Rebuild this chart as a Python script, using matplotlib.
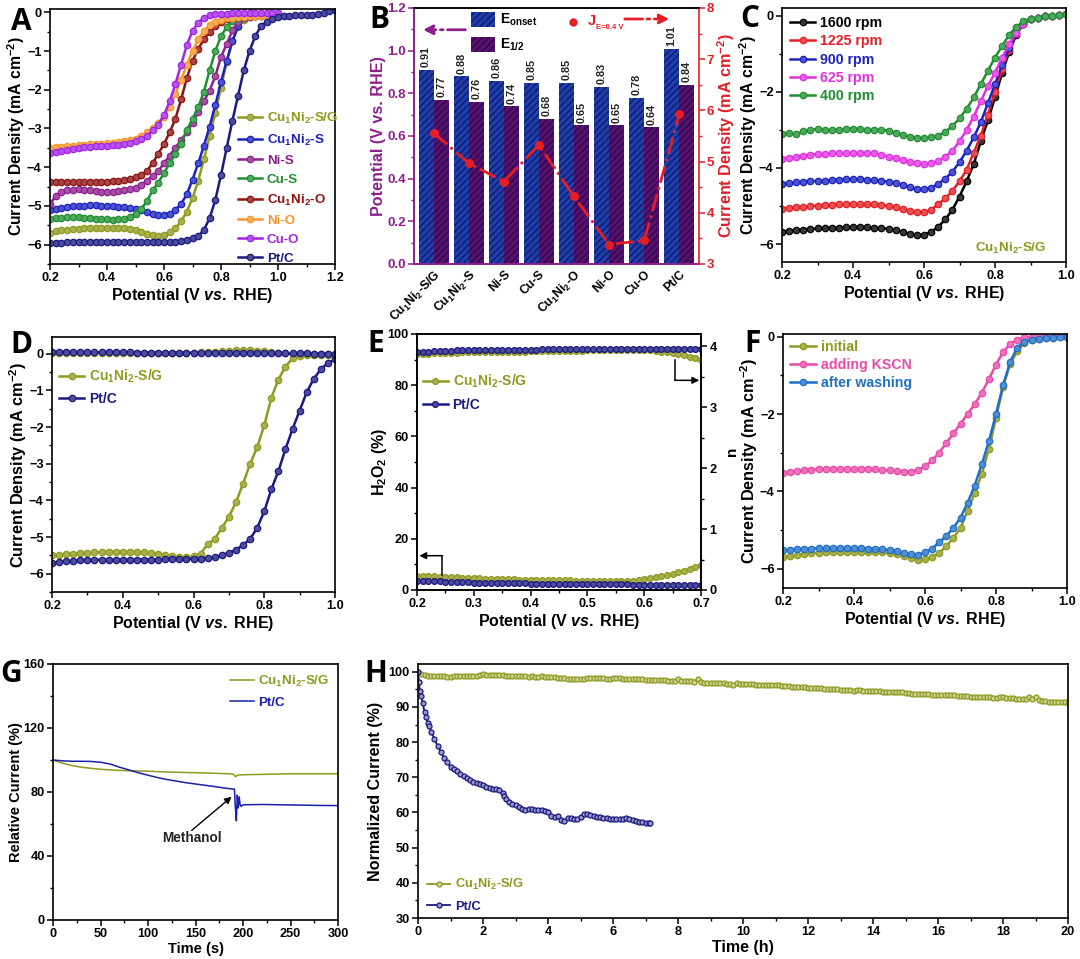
import numpy as np
import matplotlib
matplotlib.use("Agg")
import matplotlib.pyplot as plt
from matplotlib.ticker import AutoMinorLocator, MultipleLocator
from matplotlib.colors import to_rgb

plt.rcParams.update({
    'font.family': ['Liberation Sans', 'DejaVu Sans'],
    'font.weight': 'bold',
    'axes.labelweight': 'bold',
    'mathtext.fontset': 'custom',
    'mathtext.rm': 'Liberation Sans:bold',
    'mathtext.bf': 'Liberation Sans:bold',
    'mathtext.it': 'Liberation Sans:italic:bold',
    'axes.linewidth': 1.2,
    'hatch.linewidth': 1.0,
})

# ---------- shared names ----------
CUNIS_G = 'Cu$_1$Ni$_2$-S/G'
CUNIS = 'Cu$_1$Ni$_2$-S'
CUNIO = 'Cu$_1$Ni$_2$-O'
OLIVE = '#8f9a1e'; BLUE = '#1c22c0'; PURPLE = '#8e1f8e'; GREEN = '#1f8f30'
DRED = '#8e1212'; ORANGE = '#f5982a'; VIOLET = '#a224e8'; NAVY = '#1b1a80'
PINK = '#e84aa8'; SKY = '#1f6fc8'; RED = '#e51e25'; MAGENTA = '#e030e0'

# ---------- panel A ----------
A_x = np.arange(51) * 0.02 + 0.2
A_cunisg = [-5.7,-5.66,-5.63,-5.61,-5.6,-5.59,-5.58,-5.58,-5.58,-5.57,
            -5.57,-5.57,-5.57,-5.58,-5.6,-5.63,-5.68,-5.73,-5.76,-5.78,
            -5.76,-5.68,-5.57,-5.4,-5.15,-4.8,-4.35,-3.8,-3.2,-2.6,
            -1.95,-1.28,-.75,-.38,-.2,-.13,-.1,-.09,-.08,-.08,-.08]
A_cunis = [-5.1,-5.07,-5.05,-5.03,-5.01,-5.0,-4.99,-4.98,-4.98,-4.99,
           -5.0,-5.01,-5.02,-5.03,-5.05,-5.07,-5.1,-5.15,-5.2,-5.23,
           -5.24,-5.2,-5.1,-4.95,-4.7,-4.32,-3.9,-3.45,-2.95,-2.4,
           -1.8,-1.25,-.75,-.35,-.15,-.1,-.09,-.08,-.08,-.07,-.07]
A_nis = [-4.95,-4.75,-4.65,-4.6,-4.58,-4.57,-4.58,-4.6,-4.62,-4.63,
         -4.64,-4.64,-4.62,-4.6,-4.57,-4.53,-4.46,-4.35,-4.22,-4.1,
         -3.9,-3.7,-3.5,-3.3,-3.1,-2.85,-2.58,-2.3,-2.02,-1.65,
         -1.15,-.82,-.47,-.24,-.14,-.11,-.1,-.09,-.09,-.08,-.08]
A_cus = [-5.35,-5.32,-5.3,-5.29,-5.29,-5.29,-5.3,-5.31,-5.33,-5.34,
         -5.35,-5.36,-5.35,-5.33,-5.28,-5.2,-5.08,-4.88,-4.6,-4.4,
         -4.15,-3.9,-3.65,-3.4,-3.05,-2.75,-2.45,-2.05,-1.5,-1.0,
         -.62,-.38,-.22,-.14,-.11,-.1,-.09,-.09,-.08,-.08,-.08]
A_cunio = [-4.38,-4.38,-4.39,-4.39,-4.39,-4.39,-4.38,-4.38,-4.38,-4.38,
           -4.37,-4.36,-4.35,-4.33,-4.3,-4.25,-4.2,-4.1,-3.9,-3.65,
           -3.4,-3.1,-2.75,-2.25,-1.7,-1.25,-.95,-.7,-.5,-.35,
           -.25,-.18,-.14,-.12,-.1,-.09,-.08,-.08,-.07,-.07,-.07]
A_nio = [-3.5,-3.48,-3.47,-3.45,-3.44,-3.43,-3.42,-3.41,-3.4,-3.39,
         -3.38,-3.37,-3.35,-3.33,-3.3,-3.26,-3.2,-3.1,-3.0,-2.85,
         -2.7,-2.45,-2.1,-1.75,-1.35,-1.0,-.7,-.48,-.33,-.24,
         -.19,-.16,-.14,-.12,-.11,-.1,-.09,-.09,-.09,-.08,-.08]
A_cuo = [-3.63,-3.6,-3.57,-3.55,-3.53,-3.51,-3.49,-3.48,-3.46,-3.45,
         -3.44,-3.43,-3.42,-3.4,-3.38,-3.33,-3.27,-3.2,-3.05,-2.9,
         -2.65,-2.3,-1.85,-1.35,-.85,-.48,-.27,-.14,-.08,-.05,
         -.04,-.04,-.03,-.03,-.03,-.03,-.03,-.03,-.03,-.03,-.03]
A_ptc = [-5.97,-5.96,-5.95,-5.94,-5.93,-5.92,-5.92,-5.92,-5.92,-5.92,
         -5.93,-5.93,-5.93,-5.93,-5.94,-5.94,-5.94,-5.94,-5.94,-5.94,
         -5.94,-5.93,-5.92,-5.91,-5.88,-5.84,-5.78,-5.62,-5.32,-4.85,
         -4.2,-3.5,-2.8,-2.15,-1.5,-1.0,-.62,-.36,-.24,-.17,
         -.13,-.1,-.09,-.08,-.08,-.07,-.06,-.05,-.02,.03,.05]

# ---------- panel B ----------
B_cats = [CUNIS_G, CUNIS, 'Ni-S', 'Cu-S', CUNIO, 'Ni-O', 'Cu-O', 'Pt/C']
B_onset = [0.91, 0.88, 0.86, 0.85, 0.85, 0.83, 0.78, 1.01]
B_half = [0.77, 0.76, 0.74, 0.68, 0.65, 0.65, 0.64, 0.84]
B_j = [5.56, 4.97, 4.61, 5.32, 4.32, 3.38, 3.46, 5.92]

# ---------- panel C ----------
C_x = np.arange(41) * 0.02 + 0.2
C_1600 = [-5.68,-5.65,-5.63,-5.62,-5.6,-5.59,-5.58,-5.58,-5.57,-5.56,
          -5.56,-5.55,-5.56,-5.57,-5.58,-5.6,-5.63,-5.68,-5.73,-5.77,
          -5.75,-5.68,-5.55,-5.35,-5.1,-4.75,-4.35,-3.9,-3.3,-2.75,
          -2.15,-1.5,-.95,-.5,-.22,-.1,-.05,-.02,0,.01,.03]
C_1225 = [-5.07,-5.05,-5.03,-5.02,-5.0,-4.99,-4.98,-4.97,-4.96,-4.95,
          -4.95,-4.95,-4.95,-4.96,-4.97,-5.0,-5.03,-5.08,-5.13,-5.16,
          -5.16,-5.1,-4.95,-4.8,-4.6,-4.35,-4.05,-3.6,-3.15,-2.6,
          -2.0,-1.4,-.9,-.48,-.22,-.1,-.05,-.02,0,.01,.03]
C_900 = [-4.42,-4.4,-4.38,-4.36,-4.35,-4.34,-4.33,-4.32,-4.31,-4.3,
         -4.3,-4.3,-4.31,-4.32,-4.34,-4.36,-4.4,-4.45,-4.5,-4.55,
         -4.56,-4.52,-4.42,-4.28,-4.1,-3.85,-3.55,-3.2,-2.8,-2.3,
         -1.8,-1.3,-.85,-.46,-.22,-.1,-.05,-.02,0,.01,.03]
C_625 = [-3.77,-3.74,-3.7,-3.68,-3.65,-3.64,-3.63,-3.62,-3.62,-3.62,
         -3.62,-3.62,-3.62,-3.62,-3.65,-3.7,-3.75,-3.8,-3.85,-3.88,
         -3.9,-3.88,-3.82,-3.7,-3.55,-3.3,-3.0,-2.65,-2.25,-1.85,
         -1.5,-1.1,-.75,-.45,-.22,-.1,-.05,-.02,0,.01,.03]
C_400 = [-3.1,-3.08,-3.12,-3.04,-3.0,-2.98,-3.0,-3.0,-3.0,-2.98,
         -2.97,-2.97,-3.0,-3.0,-3.0,-3.02,-3.08,-3.13,-3.18,-3.22,
         -3.22,-3.2,-3.15,-3.05,-2.9,-2.7,-2.45,-2.15,-1.8,-1.45,
         -1.1,-.8,-.5,-.3,-.15,-.08,-.05,-.02,0,.01,.03]

# ---------- panel D ----------
D_x = np.arange(41) * 0.02 + 0.2
D_disk_sg = [-5.5,-5.48,-5.46,-5.45,-5.44,-5.43,-5.42,-5.41,-5.4,-5.4,
             -5.4,-5.4,-5.41,-5.42,-5.44,-5.47,-5.5,-5.53,-5.55,-5.55,
             -5.53,-5.45,-5.2,-5.05,-4.75,-4.45,-4.05,-3.55,-3.0,-2.55,
             -1.95,-1.2,-.7,-.35,-.12,-.05,-.02,-.02,-.02,-.02,-.02]
D_disk_pt = [-5.72,-5.68,-5.66,-5.65,-5.64,-5.63,-5.62,-5.62,-5.62,-5.62,
             -5.62,-5.62,-5.62,-5.62,-5.62,-5.62,-5.61,-5.6,-5.6,-5.6,
             -5.6,-5.59,-5.58,-5.55,-5.5,-5.43,-5.35,-5.22,-5.05,-4.75,
             -4.3,-3.7,-3.2,-2.6,-2.05,-1.55,-1.05,-.68,-.42,-.25,-.15]
D_ring_sg = [.02,.02,.02,.02,.02,.02,.02,.02,.02,.02,
             .02,.02,.02,.02,.02,.02,.02,.02,.02,.03,
             .03,.04,.05,.06,.08,.09,.1,.1,.1,.09,
             .07,.05,.03,.01,0,-.01,-.01,-.01,-.01,-.01,-.01]
D_ring_pt = [.05,.05,.05,.05,.04,.04,.04,.04,.04,.04,
             .04,.04,.03,.03,.03,.03,.03,.03,.03,.03,
             .03,.03,.03,.02,.02,.02,.02,.02,.02,.02,
             .02,.01,.01,.01,.01,.01,.01,0,0,0,0]

# ---------- panel E ----------
E_x = np.arange(51) * 0.01 + 0.2
E_h2o2_sg = [5.6,5.5,5.4,5.3,5.2,5.1,5.0,4.9,4.8,4.7,
             4.5,4.5,4.4,4.4,4.3,4.3,4.2,4.2,4.1,4.1,
             4.0,4.0,3.9,3.9,3.9,3.8,3.8,3.8,3.7,3.7,
             3.7,3.6,3.6,3.6,3.5,3.5,3.5,3.5,3.7,3.9,
             4.2,4.5,4.9,5.3,5.8,6.3,7.0,7.6,8.3,9.0,9.8]
E_h2o2_pt = [3.7,3.6,3.5,3.5,3.4,3.3,3.3,3.2,3.1,3.0,
             2.9,2.9,2.8,2.8,2.7,2.7,2.7,2.6,2.6,2.6,
             2.5,2.5,2.5,2.4,2.4,2.4,2.3,2.3,2.3,2.3,
             2.2,2.2,2.2,2.2,2.2,2.2,2.2,2.2,2.1,2.1,
             2.1,2.1,2.1,2.1,2.1,2.1,2.1,2.0,2.0,2.0,2.0]
E_n_sg = [3.88,3.88,3.88,3.89,3.89,3.89,3.89,3.89,3.9,3.9,
          3.9,3.9,3.9,3.9,3.91,3.91,3.91,3.91,3.91,3.91,
          3.92,3.92,3.92,3.92,3.92,3.92,3.92,3.92,3.92,3.92,
          3.93,3.93,3.93,3.93,3.93,3.93,3.93,3.93,3.93,3.93,
          3.93,3.93,3.92,3.91,3.9,3.89,3.87,3.85,3.83,3.81,3.78]
E_n_pt = [3.91,3.91,3.91,3.92,3.92,3.92,3.92,3.93,3.93,3.93,
          3.93,3.93,3.93,3.94,3.94,3.94,3.94,3.94,3.94,3.94,
          3.94,3.94,3.95,3.95,3.95,3.95,3.95,3.95,3.95,3.95,
          3.95,3.95,3.95,3.95,3.95,3.96,3.96,3.96,3.96,3.96,
          3.96,3.96,3.96,3.96,3.96,3.96,3.96,3.96,3.96,3.96,3.96]

# ---------- panel F ----------
F_x = np.arange(41) * 0.02 + 0.2
F_initial = [-5.7,-5.67,-5.64,-5.62,-5.6,-5.59,-5.58,-5.57,-5.57,-5.56,
             -5.56,-5.56,-5.56,-5.57,-5.58,-5.6,-5.63,-5.68,-5.73,-5.77,
             -5.75,-5.7,-5.6,-5.42,-5.2,-4.95,-4.5,-4.05,-3.55,-2.9,
             -2.1,-1.3,-.7,-.38,-.15,-.08,-.05,-.04,-.03,-.02,-.01]
F_kscn = [-3.53,-3.5,-3.47,-3.45,-3.44,-3.43,-3.42,-3.42,-3.42,-3.41,
          -3.41,-3.41,-3.42,-3.43,-3.45,-3.46,-3.48,-3.49,-3.5,-3.45,
          -3.35,-3.2,-3.0,-2.75,-2.5,-2.25,-2.0,-1.75,-1.45,-1.1,
          -.72,-.4,-.18,-.08,-.02,0,.03,.04,.05,.05,.05]
F_washed = [-5.52,-5.51,-5.5,-5.49,-5.48,-5.47,-5.47,-5.46,-5.46,-5.46,
            -5.47,-5.47,-5.48,-5.48,-5.5,-5.52,-5.55,-5.6,-5.63,-5.65,
            -5.58,-5.48,-5.32,-5.15,-4.95,-4.68,-4.3,-3.85,-3.3,-2.7,
            -2.0,-1.25,-.65,-.28,-.13,-.08,-.05,-.04,-.03,-.02,-.01]

# ---------- panel G ----------
G_t_sg = [0,10,20,30,40,50,60,70,80,100,120,140,160,180,190,192,194,200,220,250,300]
G_sg = [100,98,96.5,95.5,94.8,94.2,93.8,93.5,93.3,93,92.5,92.2,91.9,91.5,91.2,89.5,90.5,90.8,91,91.4,91.4]
G_t_pt = [0,10,20,30,40,50,60,70,80,90,100,110,120,130,140,150,160,170,180,190,191,192,193,194,195,196,197,198,200,220,240,260,280,300]
G_pt = [100,99.5,99.2,99.2,99.1,98.6,97.5,95.5,93.8,92,90.5,89,87.8,86.8,85.8,85,84.2,83.4,82.5,81.8,81.8,70,62,78,70,77,72,71,72,72.2,72,71.8,71.6,71.5]

# ---------- panel H ----------
H_t_sg = np.arange(201) * 0.1
H_sg = [100,99.4,99.0,98.9,98.9,98.8,98.8,98.8,98.7,98.5,
        98.6,98.7,98.8,98.8,98.8,98.7,98.7,98.7,98.8,99.0,
        99.3,99.1,99.0,99.1,99.1,99.0,99.0,98.9,98.9,98.8,
        98.8,98.8,98.7,98.7,98.6,98.7,98.6,98.6,98.7,98.6,
        98.5,98.5,98.4,98.3,98.3,98.1,98.0,97.9,97.9,97.8,
        97.8,98.0,98.1,98.2,98.2,98.1,98.1,98.1,98.0,97.8,
        98.2,98.1,98.1,98.0,98.0,97.9,97.9,97.8,97.8,97.8,
        97.7,97.7,97.7,97.6,97.7,97.6,97.6,97.5,97.5,97.4,
        97.9,97.4,97.4,97.3,97.3,97.2,97.8,97.0,96.9,96.9,
        96.9,96.8,96.8,96.8,96.7,96.6,96.5,96.3,96.7,96.6,
        96.5,96.5,96.4,96.4,96.3,96.3,96.2,96.2,96.1,96.1,
        96.2,96.1,96.0,96.0,95.9,95.6,95.8,95.7,95.7,95.6,
        95.5,95.5,95.4,95.3,95.3,95.2,95.1,95.1,95.0,95.0,
        94.9,94.9,94.8,94.8,94.6,94.7,94.7,94.6,94.6,94.5,
        94.5,94.4,94.4,94.3,94.3,94.2,94.2,94.1,94.1,94.1,
        93.9,93.9,93.8,93.8,93.7,93.7,93.6,93.6,93.5,93.5,
        93.5,93.4,93.4,93.3,93.3,93.5,93.2,93.1,93.1,93.0,
        92.9,92.9,92.8,92.8,92.7,92.7,92.7,92.6,92.6,92.8,
        92.7,92.6,92.5,92.4,92.3,92.3,92.2,92.2,92.8,92.2,
        92.9,92.0,91.6,91.6,91.5,91.5,91.4,91.4,91.3,91.3,
        91.2]
H_t_pt = [0,.03,.06,.1,.15,.2,.25,.3,.35,.4,.5,.6,.7,.8,.9,1.0,1.1,1.2,1.3,1.4,1.5,1.6,1.7,1.8,1.9,2.0,
          2.1,2.2,2.3,2.4,2.5,2.6,2.65,2.7,2.8,2.9,3.0,3.1,3.2,3.3,3.4,3.5,3.6,3.7,3.8,3.9,4.0,4.1,4.2,4.3,
          4.4,4.5,4.6,4.7,4.8,4.9,5.0,5.1,5.2,5.3,5.4,5.5,5.6,5.7,5.8,5.9,6.0,6.1,6.2,6.3,6.4,6.5,6.6,6.7,6.8,6.9,7.0,7.1,7.15]
H_pt = [100,97,94.5,93,91,88.5,87,85.5,84.5,83,81,79,77.2,75.5,74.3,73,72.4,71.7,71,70.4,69.8,69.2,68.8,68.4,68,67.7,
        67.3,67,66.8,66.6,66.5,65.6,64.8,63.8,63,62.5,62,61.6,61.1,60.6,61,60.9,60.8,60.7,60.8,60.5,60,59,58.6,59,
        57.8,57.5,58.3,58.3,58,58,58.8,59.5,59.7,59.3,59,58.8,58.6,58.5,58.3,58.1,58,58,58,58.2,58.4,58.2,57.9,57.6,57.4,57.3,57.1,57,56.9]

# ---------- layout helpers ----------
W, H = 1080, 959
fig = plt.figure(figsize=(W / 100, H / 100), dpi=100, facecolor='white')
TICK = 9.2; POTSIZE = 11.5; CDSIZE = 11.3


def make_axes(l, r, t, b):
    ax = fig.add_axes([l / W, 1 - b / H, (r - l) / W, (b - t) / H])
    ax.tick_params(which='major', direction='out', length=4, width=1.1, labelsize=TICK, pad=2)
    ax.tick_params(which='minor', direction='out', length=2.2, width=1.0)
    ax.xaxis.set_minor_locator(AutoMinorLocator(2))
    ax.yaxis.set_minor_locator(AutoMinorLocator(2))
    return ax


def tint(c, f=0.5):
    return tuple(x + (1 - x) * f for x in to_rgb(c))


def curve(ax, x, y, color, label=None, ms=4.6, lw=1.8, **kw):
    return ax.plot(x[:len(y)], y, '-o', color=color, lw=lw, ms=ms, mfc=tint(color, 0.22),
                   mec=color, mew=0.9, label=label, **kw)[0]


def letter(s, x, y):
    fig.text(x / W, 1 - y / H, s, fontsize=21.5, fontweight='bold', family=['Open Sans', 'DejaVu Sans'],
             color='black', va='baseline', ha='left')


def legend(ax, handles, loc, size=9.6, spacing=0.55):
    return ax.legend(handles=handles, loc='upper left', bbox_to_anchor=loc, frameon=False,
                     handlelength=1.8, handletextpad=0.35, labelspacing=spacing, labelcolor='linecolor',
                     borderpad=0, borderaxespad=0, prop={'weight': 'bold', 'size': size})


POT = 'Potential (V $\\mathit{vs.}$ RHE)'
CD = 'Current Density (mA cm$^{-2}$)'

# ---------- A ----------
ax = make_axes(50, 335, 9, 264)
series = [(A_cunisg, OLIVE, CUNIS_G), (A_cunis, BLUE, CUNIS), (A_nis, PURPLE, 'Ni-S'), (A_cus, GREEN, 'Cu-S'),
          (A_cunio, DRED, CUNIO), (A_nio, ORANGE, 'Ni-O'), (A_cuo, VIOLET, 'Cu-O'), (A_ptc, NAVY, 'Pt/C')]
hs = [curve(ax, A_x, y, c, l) for y, c, l in series]
ax.set_xlim(0.2, 1.2); ax.set_ylim(-6.5, 0.085)
ax.set_xticks([0.2, 0.4, 0.6, 0.8, 1.0, 1.2]); ax.set_yticks([0, -1, -2, -3, -4, -5, -6])
ax.set_xlabel(POT, fontsize=POTSIZE, labelpad=1); ax.set_ylabel(CD, fontsize=CDSIZE)
ax.yaxis.set_label_coords(-0.082, 0.5)
legend(ax, hs, (0.66, 0.60), size=9.6, spacing=0.5)
letter('A', 11, 30)

# ---------- B ----------
ax = make_axes(414, 699, 8, 264)
pos = np.arange(len(B_cats))
bw = 0.43
b1 = ax.bar(pos - bw / 2, B_onset, bw, facecolor='#1f3fb0', edgecolor='#101a60', hatch='/////', lw=0, label='E$_{\\mathrm{onset}}$')
b2 = ax.bar(pos + bw / 2, B_half, bw, facecolor='#5a1070', edgecolor='#2a0a45', hatch='/////', lw=0, label='E$_{1/2}$')
for p, v in zip(pos, B_onset):
    ax.text(p - bw / 2, v + 0.012, f'{v:.2f}', rotation=90, ha='center', va='bottom', fontsize=7.8, color='#222222')
for p, v in zip(pos, B_half):
    ax.text(p + bw / 2, v + 0.012, f'{v:.2f}', rotation=90, ha='center', va='bottom', fontsize=7.8, color='#222222')
ax.set_xlim(-0.56, 7.56); ax.set_ylim(0, 1.2)
ax.set_xticks(pos); ax.set_xticklabels(B_cats, rotation=45, ha='right', rotation_mode='anchor', fontsize=8.8)
ax.xaxis.set_minor_locator(plt.NullLocator())
ax.yaxis.set_major_locator(MultipleLocator(0.2))
ax.set_ylabel('Potential (V vs. RHE)', fontsize=11.6, color=PURPLE)
ax.yaxis.set_label_coords(-0.098, 0.5)
ax.tick_params(axis='y', which='both', colors=PURPLE); ax.tick_params(axis='y', labelsize=9.6)
ax.tick_params(axis='x', length=0, pad=3)
ax.spines['left'].set_color(PURPLE); ax.spines['bottom'].set_color(PURPLE)
ax.spines['right'].set_visible(False)
ax.legend(handles=[b1, b2], loc='upper left', bbox_to_anchor=(0.2, 0.985), frameon=False, handlelength=1.75,
          handleheight=1.25, handletextpad=0.35, labelspacing=0.62, borderpad=0, borderaxespad=0,
          prop={'weight': 'bold', 'size': 10})
ax.annotate('', xy=(0.022, 0.915), xytext=(0.19, 0.915), xycoords='axes fraction',
            arrowprops=dict(arrowstyle='-|>', color=PURPLE, lw=2, ls='-.', mutation_scale=14))
ax2 = ax.twinx()
ax2.plot(pos, B_j, '-.o', color=RED, lw=2, ms=5.5, mfc=RED, mec=RED)
ax2.plot([0.558], [0.945], 'o', color=RED, ms=5, transform=ax2.transAxes)
ax2.set_ylim(3, 8); ax2.yaxis.set_major_locator(MultipleLocator(1)); ax2.yaxis.set_minor_locator(AutoMinorLocator(2))
ax2.tick_params(axis='y', which='major', colors=RED, direction='out', length=4, width=1.1, labelsize=9.6, pad=1.5)
ax2.tick_params(axis='y', which='minor', colors=RED, direction='out', length=2.2, width=1)
ax2.spines['right'].set_color(RED); ax2.spines['left'].set_color(PURPLE); ax2.spines['bottom'].set_color(PURPLE)
ax2.set_ylabel(CD, fontsize=11.6, color=RED)
ax2.yaxis.set_label_coords(1.056, 0.5)
ax2.text(0.61, 0.95, 'J', transform=ax2.transAxes, color=RED, fontsize=10.5, va='center')
ax2.text(0.637, 0.925, 'E=0.4 V', transform=ax2.transAxes, color=RED, fontsize=5.5, va='center')
ax2.annotate('', xy=(0.905, 0.957), xytext=(0.73, 0.957), xycoords='axes fraction',
             arrowprops=dict(arrowstyle='-|>', color=RED, lw=2, ls='-.', mutation_scale=14))
letter('B', 369, 28)

# ---------- C ----------
ax = make_axes(782, 1066, 8, 262)
series = [(C_1600, 'black', '1600 rpm'), (C_1225, RED, '1225 rpm'), (C_900, BLUE, '900 rpm'),
          (C_625, MAGENTA, '625 rpm'), (C_400, GREEN, '400 rpm')]
hs = [curve(ax, C_x, y, c, l) for y, c, l in series]
ax.set_xlim(0.2, 1.0); ax.set_ylim(-6.47, 0.2)
ax.set_xticks([0.2, 0.4, 0.6, 0.8, 1.0]); ax.set_yticks([0, -2, -4, -6])
ax.set_xlabel(POT, fontsize=POTSIZE, labelpad=1); ax.set_ylabel(CD, fontsize=CDSIZE)
ax.yaxis.set_label_coords(-0.082, 0.5)
legend(ax, hs, (0.028, 0.968), size=10.2, spacing=0.3)
ax.text(0.93, 0.055, CUNIS_G, transform=ax.transAxes, color=OLIVE, fontsize=9.6, ha='right', va='center')
letter('C', 740, 27)

# ---------- D ----------
ax = make_axes(52, 335, 337, 592)
curve(ax, D_x, D_ring_sg, OLIVE); h1 = curve(ax, D_x, D_disk_sg, OLIVE, CUNIS_G)
h2 = curve(ax, D_x, D_disk_pt, NAVY, 'Pt/C'); curve(ax, D_x, D_ring_pt, NAVY)
ax.set_xlim(0.2, 1.0); ax.set_ylim(-6.5, 0.46)
ax.set_xticks([0.2, 0.4, 0.6, 0.8, 1.0]); ax.set_yticks([0, -1, -2, -3, -4, -5, -6])
ax.set_xlabel(POT, fontsize=POTSIZE, labelpad=1); ax.set_ylabel(CD, fontsize=11.7)
ax.yaxis.set_label_coords(-0.082, 0.5)
legend(ax, [h1, h2], (0.025, 0.88), size=10, spacing=0.5)
letter('D', 10, 353)

# ---------- E ----------
ax = make_axes(417, 701, 334, 590)
h1 = curve(ax, E_x, E_h2o2_sg, OLIVE, CUNIS_G, ms=4.2)
h2 = curve(ax, E_x, E_h2o2_pt, NAVY, 'Pt/C', ms=4.2)
ax.set_xlim(0.2, 0.7); ax.set_ylim(0, 100)
ax.set_xticks([0.2, 0.3, 0.4, 0.5, 0.6, 0.7]); ax.set_yticks([0, 20, 40, 60, 80, 100])
ax.set_xlabel(POT, fontsize=POTSIZE, labelpad=1); ax.set_ylabel('H$_2$O$_2$ (%)', fontsize=11.5)
ax.yaxis.set_label_coords(-0.1, 0.5)
legend(ax, [h1, h2], (0.02, 0.85), size=10, spacing=0.6)
ax.plot([0.244, 0.244], [5.8, 13.4], color='black', lw=1.1)
ax.annotate('', xy=(0.204, 13.4), xytext=(0.245, 13.4), arrowprops=dict(arrowstyle='-|>', color='black', lw=1.1, shrinkA=0, shrinkB=0))
axn = ax.twinx()
curve(axn, E_x, E_n_sg, OLIVE, ms=4.2); curve(axn, E_x, E_n_pt, NAVY, ms=4.2)
axn.set_ylim(0, 4.2); axn.set_yticks([0, 1, 2, 3, 4]); axn.yaxis.set_minor_locator(AutoMinorLocator(2))
axn.tick_params(which='major', direction='out', length=4, width=1.1, labelsize=TICK, pad=2)
axn.tick_params(which='minor', direction='out', length=2.2, width=1.0)
axn.set_ylabel('n', fontsize=11)
axn.yaxis.set_label_coords(1.084, 0.54)
axn.plot([0.655, 0.655], [3.78, 3.44], color='black', lw=1.1)
axn.annotate('', xy=(0.697, 3.44), xytext=(0.654, 3.44), arrowprops=dict(arrowstyle='-|>', color='black', lw=1.1, shrinkA=0, shrinkB=0))
letter('E', 367, 352)

# ---------- F ----------
ax = make_axes(783, 1067, 334, 588)
h1 = curve(ax, F_x, F_initial, OLIVE, 'initial')
h2 = curve(ax, F_x, F_kscn, PINK, 'adding KSCN')
h3 = curve(ax, F_x, F_washed, SKY, 'after washing')
ax.set_xlim(0.2, 1.0); ax.set_ylim(-6.5, 0.07)
ax.set_xticks([0.2, 0.4, 0.6, 0.8, 1.0]); ax.set_yticks([0, -2, -4, -6])
ax.set_xlabel(POT, fontsize=POTSIZE, labelpad=1); ax.set_ylabel(CD, fontsize=11.7)
ax.yaxis.set_label_coords(-0.082, 0.5)
legend(ax, [h1, h2, h3], (0.025, 0.975), size=10.2, spacing=0.28)
letter('F', 744, 352)

# ---------- G ----------
ax = make_axes(53, 338, 664, 920)
h1, = ax.plot(G_t_sg, G_sg, color=OLIVE, lw=1.1, label=CUNIS_G)
h2, = ax.plot(G_t_pt, G_pt, color='#1a20a8', lw=1.1, label='Pt/C')
ax.set_xlim(0, 300); ax.set_ylim(0, 160)
ax.set_xticks([0, 50, 100, 150, 200, 250, 300]); ax.set_yticks([0, 40, 80, 120, 160])
ax.set_xlabel('Time (s)', fontsize=10.5, labelpad=1); ax.set_ylabel('Relative Current (%)', fontsize=10.5)
ax.yaxis.set_label_coords(-0.105, 0.5)
legend(ax, [h1, h2], (0.62, 0.963), size=9.6, spacing=0.6)
ax.annotate('', xy=(188, 77), xytext=(146, 56), arrowprops=dict(arrowstyle='-|>', color='black', lw=1, shrinkA=0, shrinkB=0))
ax.text(146, 51, 'Methanol', ha='center', va='center', fontsize=9.8, color='#222222')
letter('G', 0, 682)

# ---------- H ----------
ax = make_axes(418, 1068, 664, 918)
h1 = ax.plot(H_t_sg, H_sg, '-o', color=OLIVE, lw=1.3, ms=3.6, mfc=tint(OLIVE, 0.55), mec=OLIVE, mew=0.9, label=CUNIS_G)[0]
h2 = ax.plot(H_t_pt, H_pt, '-o', color=NAVY, lw=1.3, ms=3.6, mfc=tint(NAVY, 0.55), mec=NAVY, mew=0.9, label='Pt/C')[0]
ax.set_xlim(0, 20); ax.set_ylim(30, 102.2)
ax.set_xticks(range(0, 21, 2)); ax.set_yticks(range(30, 101, 10))
ax.set_xlabel('Time (h)', fontsize=11.5, labelpad=1); ax.set_ylabel('Normalized Current (%)', fontsize=11.6)
ax.yaxis.set_label_coords(-0.054, 0.5)
legend(ax, [h1, h2], (0.014, 0.16), size=9.3, spacing=0.62)
letter('H', 364, 682)

fig.savefig('out.png', dpi=100, facecolor='white')
